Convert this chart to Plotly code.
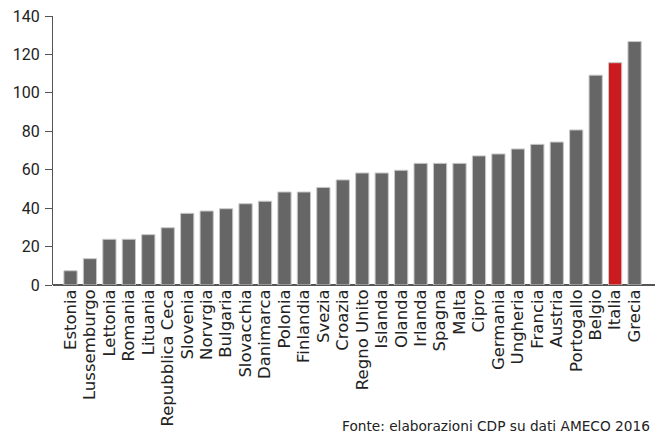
import plotly.graph_objects as go

countries = ["Estonia", "Lussemburgo", "Lettonia", "Romania", "Lituania", "Repubblica Ceca",
             "Slovenia", "Norvrgia", "Bulgaria", "Slovacchia", "Danimarca", "Polonia",
             "Finlandia", "Svezia", "Croazia", "Regno Unito", "Islanda", "Olanda", "Irlanda",
             "Spagna", "Malta", "Cipro", "Germania", "Ungheria", "Francia", "Austria",
             "Portogallo", "Belgio", "Italia", "Grecia"]
values = [7.4, 13.7, 23.8, 23.8, 26.2, 29.8, 37.3, 38.5, 39.7, 42.3, 43.6, 48.4, 48.4, 50.8,
          54.7, 58.3, 58.3, 59.7, 63.3, 63.3, 63.3, 67.2, 68.2, 70.8, 73.2, 74.4, 80.7,
          109.2, 115.7, 126.7]
highlight = "Italia"
y_ticks = [0, 20, 40, 60, 80, 100, 120, 140]
source = "Fonte: elaborazioni CDP su dati AMECO 2016"

colors = ["#cc1a21" if c == highlight else "#666666" for c in countries]

fig = go.Figure(go.Bar(
    x=countries, y=values,
    marker=dict(color=colors, line=dict(color="#c8c8c8", width=1)),
    width=0.68,
))

W, H = 659, 437
ml, mr, mt, mb = 53, 4, 16, 152
fig.update_layout(
    width=W, height=H,
    margin=dict(l=ml, r=mr, t=mt, b=mb, autoexpand=False),
    paper_bgcolor="white", plot_bgcolor="white",
    showlegend=False,
    font=dict(family="Roboto, sans-serif", color="#222222"),
    xaxis=dict(
        range=[-0.9, 30.05], showgrid=False, zeroline=False, automargin=False,
        showline=False, ticks="", tickangle=-90,
        tickmode="array", tickvals=countries, ticktext=countries,
        tickfont=dict(family="DejaVu Sans, sans-serif", size=16.5, color="#222222"),
    ),
    yaxis=dict(
        range=[0, 140], tickvals=y_ticks, showgrid=False, zeroline=True, automargin=False,
        zerolinecolor="#555555", zerolinewidth=1.5,
        showline=True, linecolor="#555555", linewidth=1,
        ticks="outside", ticklen=7, tickcolor="#555555", tickwidth=1,
        tickfont=dict(size=16, color="#222222"), ticklabelstandoff=2,
    ),
    annotations=[dict(
        text=source, xref="paper", yref="paper", x=1.0, y=0, yshift=-151, xshift=-3,
        xanchor="right", yanchor="bottom", showarrow=False,
        font=dict(family="DejaVu Sans, sans-serif", size=13.7, color="#222222"),
    )],
)

fig.write_html(
    "out.html",
    config={"displayModeBar": False},
    post_script="document.body.style.margin='0';document.body.style.padding='0';",
)
